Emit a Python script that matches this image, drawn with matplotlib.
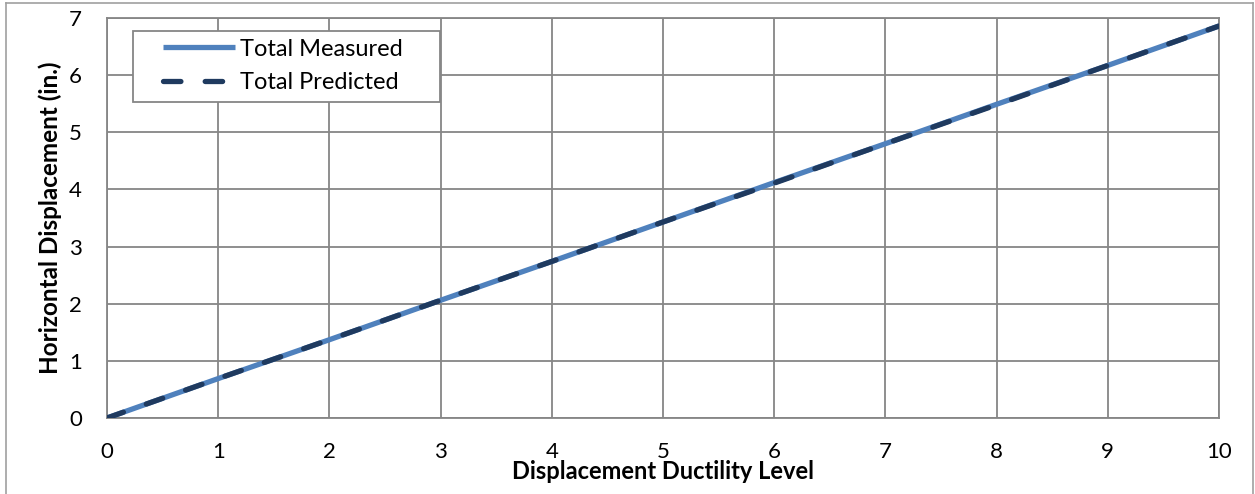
import matplotlib.pyplot as plt
from matplotlib.lines import Line2D
from matplotlib.patches import Rectangle

plt.rcParams['font.family'] = ['Lato', 'DejaVu Sans']

ductility = [0, 1, 2, 3, 4, 5, 6, 7, 8, 9, 10]
measured = [0, 0.69, 1.37, 2.06, 2.74, 3.43, 4.12, 4.80, 5.49, 6.17, 6.86]
predicted = [0, 0.69, 1.37, 2.06, 2.74, 3.43, 4.11, 4.80, 5.48, 6.17, 6.86]

grid_color = '#868686'
lw = 3.8

fig = plt.figure(figsize=(12.55, 4.94), dpi=100)
ax = fig.add_axes([107 / 1255, 1 - 418 / 494, (1219 - 107) / 1255, 400 / 494])

ax.plot(ductility, measured, color='#4F81BD', lw=lw, label='Total Measured',
        solid_capstyle='butt', zorder=3)
ax.plot(ductility, predicted, color='#1F3A5F', lw=lw, ls=(0, (3.3, 4.6)),
        dash_capstyle='round', label='Total Predicted', zorder=4)

ax.set_xlim(0, 10)
ax.set_ylim(0, 7)
ax.set_xticks(range(0, 11))
ax.set_yticks(range(0, 8))
ax.grid(True, color=grid_color, lw=1.3)
ax.set_axisbelow(True)
for s in ax.spines.values():
    s.set_color(grid_color)
    s.set_linewidth(1.3)
ax.tick_params(length=0, labelsize=16)
ax.tick_params(axis='x', pad=17)
ax.tick_params(axis='y', pad=18)

ax.set_xlabel('Displacement Ductility Level', fontsize=17, fontweight='bold', labelpad=-1)
ax.set_ylabel('Horizontal Displacement (in.)', fontsize=17.5, fontweight='bold', labelpad=5)

# legend box drawn separately, Excel style
ax.add_patch(Rectangle((26 / 1112, 316 / 400), 307 / 1112, 71 / 400,
                       transform=ax.transAxes, facecolor='white',
                       edgecolor=grid_color, lw=1.3, zorder=5))
leg = ax.legend(loc='center left', bbox_to_anchor=(56 / 1112, 352 / 400), fontsize=17,
                frameon=False, handlelength=3.05, handletextpad=0.2,
                borderpad=0, labelspacing=0.55, borderaxespad=0)
leg.set_zorder(6)

# outer chart border (bottom edge is cropped in the original)
x0, x1 = 6 / 1255, 1253 / 1255
ytop = 1 - 3 / 494
for xs, ys in [([x0, x0], [0, ytop]), ([x0, x1], [ytop, ytop]), ([x1, x1], [ytop, 0])]:
    fig.add_artist(Line2D(xs, ys, transform=fig.transFigure, color='#A0A0A0', lw=1.2))

fig.savefig('out.png', dpi=100)
